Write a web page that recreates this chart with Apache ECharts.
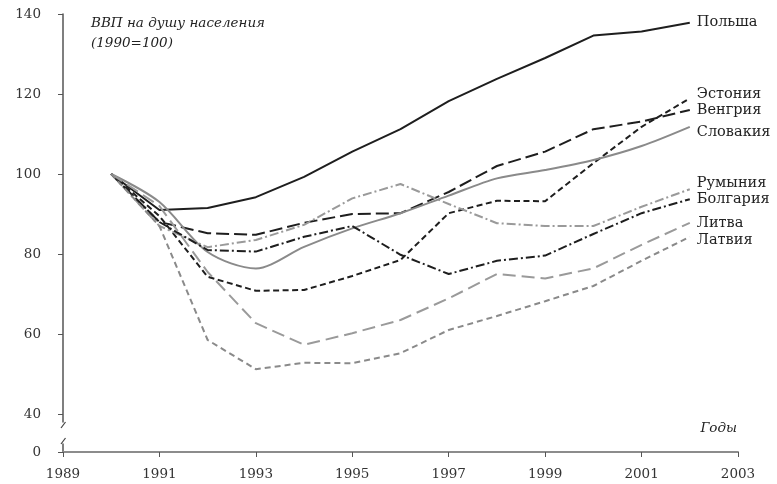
<!DOCTYPE html>
<html><head><meta charset="utf-8">
<script src="https://cdn.jsdelivr.net/npm/echarts@6/dist/echarts.min.js"></script>
<style>html,body{margin:0;padding:0;background:#fff}#c{width:777px;height:484px}</style>
</head><body><div id="c"></div>
<script>
const years = [1990,1991,1992,1993,1994,1995,1996,1997,1998,1999,2000,2001,2002];
const poland   = [100, 91.0, 91.5, 94.2, 99.3, 105.6, 111.2, 118.2, 123.8, 129.0, 134.6, 135.6, 137.8];
const estonia  = [100, 89.5, 74.3, 70.8, 71.0, 74.5, 78.5, 90.2, 93.3, 93.2, 102.7, 111.8, 118.9];
const hungary  = [100, 88.0, 85.2, 84.8, 87.8, 90.0, 90.2, 95.5, 102.0, 105.6, 111.2, 113.1, 116.0];
const slovakia = [100, 93.0, 80.5, 76.4, 81.8, 86.4, 90.2, 94.6, 98.9, 101.0, 103.5, 107.0, 111.8];
const romania  = [100, 87.0, 81.7, 83.5, 87.3, 93.9, 97.5, 92.5, 87.7, 87.0, 87.0, 91.8, 96.2];
const bulgaria = [100, 88.0, 81.0, 80.6, 84.3, 87.0, 79.8, 75.0, 78.3, 79.6, 85.0, 90.2, 93.7];
const lithuania= [100, 92.0, 75.5, 62.7, 57.3, 60.2, 63.5, 68.9, 75.0, 73.9, 76.4, 82.3, 87.8];
const latvia   = [100, 87.0, 58.5, 51.2, 52.8, 52.7, 55.2, 61.0, 64.5, 68.2, 72.0, 78.3, 84.3];
const names = ['Польша','Эстония','Венгрия','Словакия','Румыния','Болгария','Литва','Латвия'];
const xTickYears = [1989,1991,1993,1995,1997,1999,2001,2003];
const yTickValues = [0,40,60,80,100,120,140];
const titleText = 'ВВП на душу населения\n(1990=100)';
const xAxisName = 'Годы';

const allData = [poland, estonia, hungary, slovakia, romania, bulgaria, lithuania, latvia];
const styles = [
  {color:'#1e1e1e', type:'solid', dy:-1},
  {color:'#1e1e1e', type:[6,3.5], dy:-4},
  {color:'#1e1e1e', type:[13,5], dy:0},
  {color:'#8a8a8a', type:'solid', dy:5, smooth:0.3},
  {color:'#9a9a9a', type:[9,3,2,3], dy:-6},
  {color:'#1e1e1e', type:[9,3,2,3], dy:0},
  {color:'#9a9a9a', type:[13,6], dy:0},
  {color:'#8a8a8a', type:[6,4], dy:3}
];
const serif = '"DejaVu Serif", "Liberation Serif", serif';

const chart = echarts.init(document.getElementById('c'));
const series = allData.map((arr, i) => ({
  name: names[i],
  type: 'line',
  data: arr.map((v, k) => [years[k], v]),
  showSymbol: false,
  symbol: 'none',
  smooth: styles[i].smooth || false,
  lineStyle: {color: styles[i].color, width: 2, type: styles[i].type},
  itemStyle: {color: styles[i].color},
  endLabel: {
    show: true, formatter: names[i], color: '#222', fontFamily: serif, fontSize: 14.5,
    distance: 7, offset: [0, styles[i].dy]
  },
  emphasis: {disabled: true},
  animation: false
}));

chart.setOption({
  animation: false,
  grid: {left: 63, right: 39, top: 14, bottom: 32, containLabel: false},
  title: [
    {text: titleText, left: 86, top: 8,
     textStyle: {fontFamily: serif, fontStyle: 'italic', fontWeight: 'normal', fontSize: 13.5, color: '#222', lineHeight: 20}},
    {text: xAxisName, right: 35, top: 416,
     textStyle: {fontFamily: serif, fontStyle: 'italic', fontWeight: 'normal', fontSize: 13.5, color: '#222'}}
  ],
  xAxis: {
    type: 'value', min: 1989, max: 2003, interval: 2,
    splitLine: {show: false},
    axisLine: {show: true, lineStyle: {color: '#8c8c8c', width: 2}},
    axisTick: {show: true, length: 5, lineStyle: {color: '#555', width: 1}},
    axisLabel: {fontFamily: serif, fontSize: 13.5, color: '#333', margin: 15,
      customValues: xTickYears, formatter: v => String(v)},
  },
  yAxis: {
    type: 'value', min: 0, max: 140, interval: 20,
    breaks: [{start: 2, end: 38, gap: 5.5}],
    breakArea: {show: false},
    splitLine: {show: false},
    axisLine: {show: true, lineStyle: {color: '#555', width: 1.5}},
    axisTick: {show: true, length: 5, customValues: yTickValues, lineStyle: {color: '#555'}},
    axisLabel: {fontFamily: serif, fontSize: 13.5, color: '#333', margin: 22,
      customValues: yTickValues, formatter: v => String(v)}
  },
  series: series
});

// axis-break slashes on the y axis line
const x0 = chart.convertToPixel({xAxisIndex: 0}, 1989);
const yA = chart.convertToPixel({yAxisIndex: 0}, 38);
const yB = chart.convertToPixel({yAxisIndex: 0}, 2);
const slash = (yc) => ({type: 'line', z: 100,
  shape: {x1: x0 - 2, y1: yc + 3, x2: x0 + 2.5, y2: yc - 3},
  style: {stroke: '#444', lineWidth: 1.2}});
chart.setOption({graphic: [slash(yA + 3), slash(yB - 3)]});
</script>
</body></html>
